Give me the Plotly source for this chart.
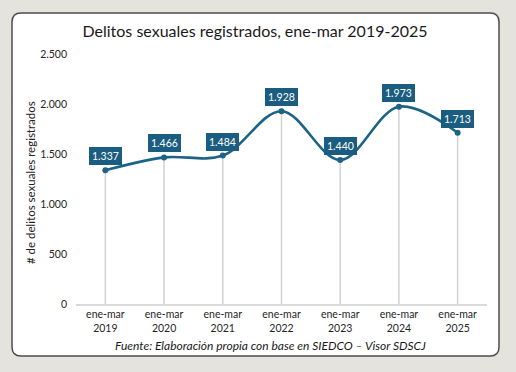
import plotly.graph_objects as go

categories = ["ene-mar<br>2019", "ene-mar<br>2020", "ene-mar<br>2021", "ene-mar<br>2022",
              "ene-mar<br>2023", "ene-mar<br>2024", "ene-mar<br>2025"]
values = [1337, 1466, 1484, 1928, 1440, 1973, 1713]
y_ticks = [0, 500, 1000, 1500, 2000, 2500]

BLUE = "#1c6386"
FONT = "Lato"

W, H = 516, 372
ML, MR, MT, MB = 76, 29, 54, 68

fig = go.Figure()

# vertical drop lines from each point to zero
dx, dy = [], []
for c, v in zip(categories, values):
    dx += [c, c, None]
    dy += [0, v, None]
fig.add_trace(go.Scatter(x=dx, y=dy, mode="lines",
                         line=dict(color="#d2d2d2", width=1.5),
                         hoverinfo="skip", showlegend=False))

fig.add_trace(go.Scatter(x=categories, y=values, mode="lines+markers",
                         line=dict(color=BLUE, width=2.6, shape="spline", smoothing=1.0),
                         marker=dict(color=BLUE, size=6),
                         showlegend=False))

for c, v in zip(categories, values):
    fig.add_annotation(x=c, y=v, xref="x", yref="y", text=f"{v:,}".replace(",", "."),
                       showarrow=False, yshift=14,
                       font=dict(family=FONT, size=10.5, color="white"),
                       bgcolor="#1a5d80", bordercolor="#1a5d80", borderpad=2, borderwidth=1)

# white card with rounded corners (pixel path relative to plot-area bottom-left)
cx0, cx1 = 12 - ML, 499 - ML
cy0, cy1 = -(356 - (H - MB)), (H - MB) - 13
r = 9
path = (f"M {cx0+r},{cy0} L {cx1-r},{cy0} Q {cx1},{cy0} {cx1},{cy0+r} "
        f"L {cx1},{cy1-r} Q {cx1},{cy1} {cx1-r},{cy1} L {cx0+r},{cy1} "
        f"Q {cx0},{cy1} {cx0},{cy1-r} L {cx0},{cy0+r} Q {cx0},{cy0} {cx0+r},{cy0} Z")
fig.add_shape(type="path", xref="paper", yref="paper", xsizemode="pixel", ysizemode="pixel",
              xanchor=0, yanchor=0, path=path, fillcolor="white",
              line=dict(color="#4d4d4d", width=1.5), layer="below")

# y axis title
fig.add_annotation(x=(30 - ML) / (W - ML - MR), y=(H - MB - 183) / (H - MT - MB),
                   xref="paper", yref="paper", text="# de delitos sexuales registrados",
                   textangle=-90, showarrow=False, xanchor="center", yanchor="middle",
                   font=dict(family=FONT, size=11.5, color="#222222"))

# source
fig.add_annotation(x=(270 - ML) / (W - ML - MR), y=(H - MB - 345) / (H - MT - MB),
                   xref="paper", yref="paper", xanchor="center", yanchor="middle",
                   text="<i>Fuente: Elaboración propia con base en SIEDCO – Visor SDSCJ</i>",
                   showarrow=False, font=dict(family=FONT, size=12, color="#1a1a1a"))

fig.update_layout(
    width=W, height=H,
    margin=dict(l=ML, r=MR, t=MT, b=MB),
    paper_bgcolor="#e4e3de",
    plot_bgcolor="rgba(0,0,0,0)",
    separators=",.",
    title=dict(text="Delitos sexuales registrados, ene-mar 2019-2025",
               x=255 / W, xanchor="center", y=1 - 31 / H, yanchor="middle",
               font=dict(family=FONT, size=16, color="#1a1a1a")),
    xaxis=dict(showgrid=False, showline=True, linecolor="#d9d9d9", linewidth=1.5,
               ticks="", tickfont=dict(family=FONT, size=10.5, color="#262626"),
               range=[-0.5, 6.5], fixedrange=True),
    yaxis=dict(range=[0, 2500], tickvals=y_ticks, tickformat=",d", showgrid=False,
               zeroline=False, showline=False, ticks="",
               ticklabelstandoff=8,
               tickfont=dict(family=FONT, size=10.5, color="#262626")),
)

fig.write_html("out.html", config={"displayModeBar": False},
               post_script="document.body.style.margin='0';")
